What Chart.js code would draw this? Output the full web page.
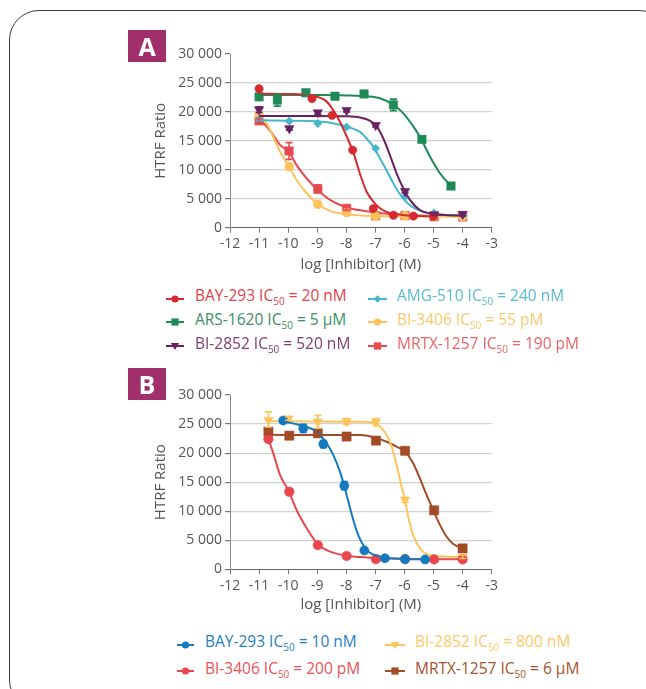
<!DOCTYPE html>
<html><head><meta charset="utf-8">
<script src="https://cdn.jsdelivr.net/npm/chart.js@4.4.1/dist/chart.umd.min.js"></script>
<style>
html,body{margin:0;padding:0;background:#fff;width:646px;height:689px;overflow:hidden;font-family:"Open Sans",sans-serif;}
.frame{position:absolute;left:9px;top:10px;width:660px;height:700px;border:1.5px solid #3a3a3a;border-radius:30px;box-sizing:border-box;}
.tag{position:absolute;left:128px;width:38px;height:32px;background:#a02f6c;color:#fff;font:700 25px "Open Sans",sans-serif;text-align:center;line-height:32px;z-index:3;}
.wrap{position:absolute;left:0;width:646px;height:278px;}
.lt{position:absolute;font-size:15.5px;line-height:20px;height:20px;white-space:nowrap;z-index:4;}
.lt sub{font-size:10px;vertical-align:-4px;line-height:0;}
.lm{position:absolute;z-index:4;}
</style>
</head><body>
<div class="frame"></div>
<div class="tag" style="top:30px">A</div>
<div class="tag" style="top:368px">B</div>
<div class="wrap" style="top:0"><canvas id="cA"></canvas></div>
<div class="wrap" style="top:340px"><canvas id="cB"></canvas></div>
<div id="legends"></div>
<script>
// ---------- axis ticks ----------
const xTickValues = [-12, -11, -10, -9, -8, -7, -6, -5, -4, -3];
const yTickLabels = ['0', '5 000', '10 000', '15 000', '20 000', '25 000', '30 000'];

// ---------- Panel A : measured points ----------
const a_bay_x = [-11, -9.18, -8.49, -7.78, -7.07, -6.38, -5.69, -5.0];
const a_bay_y = [24000, 22300, 19400, 13400, 3300, 2150, 2000, 1950];
const a_bay_e = [0, 300, 0, 0, 0, 0, 0, 0];
const a_ars_x = [-11, -10.37, -9.39, -8.39, -7.39, -6.38, -5.40, -4.40];
const a_ars_y = [22600, 22050, 23300, 22700, 23100, 21200, 15250, 7200];
const a_ars_e = [400, 1050, 300, 300, 300, 1000, 500, 400];
const a_bi2852_x = [-11, -9.96, -8.98, -7.99, -6.99, -5.98, -4.98, -4.0];
const a_bi2852_y = [20400, 17150, 19900, 20300, 17700, 6300, 2300, 2350];
const a_bi2852_e = [500, 300, 300, 300, 300, 300, 200, 300];
const a_amg_x = [-11, -9.96, -8.98, -7.99, -6.99, -5.98, -4.98, -3.99];
const a_amg_y = [18700, 18400, 18000, 17400, 13700, 5350, 2550, 2150];
const a_amg_e = [0, 0, 0, 0, 0, 0, 0, 0];
const a_bi3406_x = [-11, -9.96, -8.98, -7.99, -6.99, -5.98, -4.98, -4.0];
const a_bi3406_y = [19450, 10550, 4050, 2600, 2000, 2050, 1950, 1900];
const a_bi3406_e = [0, 0, 0, 0, 0, 0, 0, 0];
const a_mrtx_x = [-11, -9.97, -8.98, -7.99, -6.99, -5.98, -4.98, -4.0];
const a_mrtx_y = [18450, 13250, 6700, 3350, 2050, 2100, 1900, 1850];
const a_mrtx_e = [400, 1450, 700, 350, 0, 0, 0, 0];

// ---------- Panel A : fitted curves ----------
const a_bay_cx = [-11, -10, -9.2, -8.7, -8.45, -8.22, -8.0, -7.76, -7.53, -7.3, -7.07, -6.84, -6.6, -6.38, -6.0, -5.5, -5.0];
const a_bay_cy = [23150, 23100, 22800, 21900, 20300, 18300, 15900, 13000, 9300, 6200, 4500, 3350, 2700, 2450, 2150, 2000, 1950];
const a_ars_cx = [-11, -9, -8, -7.3, -6.84, -6.38, -6.04, -5.69, -5.41, -5.12, -4.78, -4.4];
const a_ars_cy = [22900, 22900, 22850, 22700, 22350, 21200, 19750, 17450, 15150, 12250, 9400, 7200];
const a_bi2852_cx = [-11, -9, -8, -7.53, -7.18, -6.95, -6.73, -6.5, -6.27, -6.04, -5.81, -5.47, -5.0, -4.5, -4.0];
const a_bi2852_cy = [19300, 19300, 19250, 19050, 18450, 17450, 15450, 12550, 9400, 6800, 4800, 3050, 2350, 2150, 2100];
const a_amg_cx = [-11, -9.5, -8.5, -7.8, -7.53, -7.3, -7.07, -6.84, -6.61, -6.38, -6.15, -5.93, -5.58, -5.24, -4.78, -4.0];
const a_amg_cy = [18550, 18450, 18100, 17150, 16550, 15400, 14000, 11950, 9850, 7650, 5750, 4400, 3150, 2600, 2300, 2150];
const a_bi3406_cx = [-11, -10.74, -10.51, -10.28, -9.96, -9.71, -9.36, -8.98, -8.56, -7.99, -7.3, -6, -4];
const a_bi3406_cy = [19700, 18000, 15700, 13150, 10450, 8250, 5950, 4100, 2900, 2300, 2050, 1950, 1900];
const a_mrtx_cx = [-11, -10.74, -10.51, -10.28, -9.97, -9.71, -9.36, -8.98, -8.56, -7.99, -7.3, -6.5, -5.5, -4];
const a_mrtx_cy = [18900, 17450, 16000, 14300, 13100, 10800, 8500, 6500, 4800, 3500, 2850, 2350, 2100, 2000];

// ---------- Panel B : measured points ----------
const b_bay_x = [-10.17, -9.48, -8.79, -8.07, -7.38, -6.67, -5.98, -5.29];
const b_bay_y = [25600, 24250, 21550, 14400, 3250, 1900, 1750, 1700];
const b_bay_e = [300, 700, 600, 700, 300, 0, 0, 0];
const b_bi3406_x = [-10.68, -9.96, -8.98, -7.99, -6.98, -5.98, -4.98, -4.0];
const b_bi3406_y = [22400, 13350, 4150, 2300, 1750, 1750, 1700, 1700];
const b_bi3406_e = [0, 0, 0, 0, 0, 0, 0, 0];
const b_bi2852_x = [-10.68, -9.99, -8.98, -7.99, -6.98, -5.98, -4.98, -4.0];
const b_bi2852_y = [25700, 25950, 25400, 25450, 25350, 11950, 1900, 2150];
const b_bi2852_e = [1400, 300, 1100, 500, 600, 400, 0, 300];
const b_mrtx_x = [-10.68, -9.96, -8.98, -7.99, -6.98, -5.98, -4.98, -4.0];
const b_mrtx_y = [23700, 23000, 23400, 22850, 22150, 20400, 10150, 3600];
const b_mrtx_e = [500, 300, 300, 300, 400, 300, 400, 300];

// ---------- Panel B : fitted curves ----------
const b_bay_cx = [-10.17, -9.48, -9.02, -8.68, -8.45, -8.22, -8.08, -7.93, -7.76, -7.59, -7.36, -7.19, -6.96, -6.61, -5.9, -5.24];
const b_bay_cy = [25450, 24650, 23700, 21700, 19700, 16800, 14500, 11650, 8500, 5900, 3700, 2850, 2350, 2000, 1750, 1700];
const b_bi3406_cx = [-10.68, -10.51, -10.28, -9.97, -9.71, -9.36, -8.98, -8.56, -7.99, -7.3, -6.5, -5, -4];
const b_bi3406_cy = [22400, 19950, 16250, 13350, 10200, 7050, 4300, 3050, 2350, 2050, 1850, 1750, 1750];
const b_bi2852_cx = [-10.68, -9, -7.5, -7.07, -6.84, -6.61, -6.44, -6.27, -6.1, -5.98, -5.87, -5.7, -5.47, -5.24, -4.9, -4];
const b_bi2852_cy = [25500, 25450, 25400, 25200, 24550, 23100, 21100, 17950, 14250, 11950, 9050, 5900, 3600, 2650, 2300, 2150];
const b_mrtx_cx = [-10.68, -9, -7.53, -7.07, -6.61, -6.27, -5.98, -5.70, -5.47, -5.24, -5.01, -4.78, -4.55, -4.32, -4.0];
const b_mrtx_cy = [23150, 23100, 23100, 22750, 21950, 21100, 20250, 18250, 15650, 12800, 10200, 7650, 5600, 4350, 3600];

// ---------- legend labels ----------
const namesA = ['BAY-293', 'ARS-1620', 'BI-2852', 'AMG-510', 'BI-3406', 'MRTX-1257'];
const icA = ['20 nM', '5 µM', '520 nM', '240 nM', '55 pM', '190 pM'];
const namesB = ['BAY-293', 'BI-3406', 'BI-2852', 'MRTX-1257'];
const icB = ['10 nM', '200 pM', '800 nM', '6 µM'];

// ---------- styling ----------
const seriesA = [
  {x:a_bay_x, y:a_bay_y, e:a_bay_e, cx:a_bay_cx, cy:a_bay_cy, color:'#d42a30', text:'#df424a', shape:'circle', r:4.2},
  {x:a_ars_x, y:a_ars_y, e:a_ars_e, cx:a_ars_cx, cy:a_ars_cy, color:'#1f8a57', text:'#3a9066', shape:'rect', r:6},
  {x:a_bi2852_x, y:a_bi2852_y, e:a_bi2852_e, cx:a_bi2852_cx, cy:a_bi2852_cy, color:'#6a2161', text:'#7d3d70', shape:'tri', r:5.5},
  {x:a_amg_x, y:a_amg_y, e:a_amg_e, cx:a_amg_cx, cy:a_amg_cy, color:'#47b6cb', text:'#58bcd0', shape:'diamond', r:4.2},
  {x:a_bi3406_x, y:a_bi3406_y, e:a_bi3406_e, cx:a_bi3406_cx, cy:a_bi3406_cy, color:'#fdc35a', text:'#fcc86a', shape:'circle', r:4.5},
  {x:a_mrtx_x, y:a_mrtx_y, e:a_mrtx_e, cx:a_mrtx_cx, cy:a_mrtx_cy, color:'#e8494f', text:'#e9636a', shape:'rect', r:6}
];
const seriesB = [
  {x:b_bay_x, y:b_bay_y, e:b_bay_e, cx:b_bay_cx, cy:b_bay_cy, color:'#1479be', text:'#1f80c4', shape:'circle', r:4.6},
  {x:b_bi3406_x, y:b_bi3406_y, e:b_bi3406_e, cx:b_bi3406_cx, cy:b_bi3406_cy, color:'#e9464e', text:'#e8525a', shape:'circle', r:4.8},
  {x:b_bi2852_x, y:b_bi2852_y, e:b_bi2852_e, cx:b_bi2852_cx, cy:b_bi2852_cy, color:'#fdc45c', text:'#fdc865', shape:'tri', r:5.5},
  {x:b_mrtx_x, y:b_mrtx_y, e:b_mrtx_e, cx:b_mrtx_cx, cy:b_mrtx_cy, color:'#a34a26', text:'#a4532e', shape:'rect', r:6.5}
];

const styleMap = {circle:['circle',0], rect:['rect',0], tri:['triangle',180], diamond:['rectRot',0]};

function buildDatasets(series){
  const ds = [];
  series.forEach(s => {
    const st = styleMap[s.shape];
    ds.push({
      data: s.x.map((v,i)=>({x:v, y:s.y[i]})),
      yErr: s.e,
      showLine:false,
      pointStyle: st[0], rotation: st[1], pointRadius: s.r,
      backgroundColor: s.color, borderColor: s.color, borderWidth: 0.5
    });
    ds.push({
      data: s.cx.map((v,i)=>({x:v, y:s.cy[i]})),
      showLine:true, pointRadius:0, borderColor:s.color, borderWidth:2,
      cubicInterpolationMode:'monotone', fill:false
    });
  });
  return ds;
}

const errPlugin = {
  id:'errbars',
  afterDatasetsDraw(chart){
    const ctx = chart.ctx, xs = chart.scales.x, ys = chart.scales.y;
    chart.data.datasets.forEach(ds => {
      if (!ds.yErr) return;
      ctx.save();
      ctx.strokeStyle = ds.borderColor; ctx.lineWidth = 1.6;
      ds.data.forEach((p,i) => {
        const e = ds.yErr[i]; if (!e) return;
        const px = xs.getPixelForValue(p.x);
        const y1 = ys.getPixelForValue(p.y + e), y2 = ys.getPixelForValue(p.y - e);
        ctx.beginPath();
        ctx.moveTo(px, y1); ctx.lineTo(px, y2);
        ctx.moveTo(px-3.5, y1); ctx.lineTo(px+3.5, y1);
        ctx.moveTo(px-3.5, y2); ctx.lineTo(px+3.5, y2);
        ctx.stroke();
      });
      ctx.restore();
    });
  }
};

function makeChart(id, series, padTop, xH){
  return new Chart(document.getElementById(id), {
    type:'scatter',
    data:{datasets: buildDatasets(series)},
    plugins:[errPlugin],
    options:{
      responsive:true, maintainAspectRatio:false, animation:false, devicePixelRatio:1,
      clip:false,
      layout:{padding:{left:148, right:154.3, top:padTop, bottom:0}},
      plugins:{legend:{display:false}, tooltip:{enabled:false}},
      scales:{
        x:{
          type:'linear', min:-12, max:-3,
          afterBuildTicks: s => { s.ticks = xTickValues.map(v=>({value:v})); },
          afterFit: s => { s.height = xH; },
          ticks:{color:'#555', font:{family:'"Open Sans"', size:14}, padding:3, maxRotation:0, autoSkip:false,
                 callback: v => String(v)},
          grid:{drawOnChartArea:false, tickLength:5, tickColor:'#777', tickWidth:1},
          border:{color:'#666', width:1},
          title:{display:true, text:'log [Inhibitor] (M)', color:'#555', font:{family:'"Open Sans"', size:15}, padding:{top:2,bottom:4}}
        },
        y:{
          type:'linear', min:0, max:30000,
          ticks:{stepSize:5000, color:'#555', font:{family:'"Open Sans"', size:14}, padding:3,
                 callback: v => yTickLabels[Math.round(v/5000)]},
          afterFit: s => { s.width = 82; },
          grid:{tickLength:5, tickColor:'#777', lineWidth:1.2,
                color: c => (c.tick && (c.tick.value===30000 || c.tick.value===0)) ? 'rgba(0,0,0,0)' : '#d2d2d2'},
          border:{color:'#888', width:1},
          title:{display:true, text:'HTRF Ratio', color:'#555', font:{family:'"Open Sans"', size:15}, padding:{top:4,bottom:4}}
        }
      }
    }
  });
}

makeChart('cA', seriesA, 54, 50.3);
makeChart('cB', seriesB, 55, 48.7);

// ---------- legends (HTML for subscript text) ----------
function markerSVG(shape, color, w){
  const h = 14, cy = 7, cx = w/2;
  let m = '';
  if (shape==='circle') m = `<circle cx="${cx}" cy="${cy}" r="3.6" fill="${color}"/>`;
  else if (shape==='rect') m = `<rect x="${cx-3.6}" y="${cy-3.6}" width="7.2" height="7.2" fill="${color}"/>`;
  else if (shape==='tri') m = `<polygon points="${cx-4.2},${cy-3} ${cx+4.2},${cy-3} ${cx},${cy+4}" fill="${color}"/>`;
  else m = `<polygon points="${cx},${cy-3.8} ${cx+3.8},${cy} ${cx},${cy+3.8} ${cx-3.8},${cy}" fill="${color}"/>`;
  return `<svg width="${w}" height="${h}" viewBox="0 0 ${w} ${h}"><line x1="0" y1="${cy}" x2="${w}" y2="${cy}" stroke="${color}" stroke-width="2"/>${m}</svg>`;
}
const legRoot = document.getElementById('legends');
function addLegend(series, names, ics, cols, rows){
  series.forEach((s,i)=>{
    const c = cols[i], r = rows[i];
    const m = document.createElement('div');
    m.className='lm'; m.style.left=c[0]+'px'; m.style.top=(r-7)+'px';
    m.innerHTML = markerSVG(s.shape, s.color, c[1]-c[0]);
    legRoot.appendChild(m);
    const t = document.createElement('div');
    t.className='lt'; t.style.left=c[2]+'px'; t.style.top=(r-10.5)+'px'; t.style.color=s.text;
    t.innerHTML = `${names[i]} IC<sub>50</sub> = ${ics[i]}`;
    legRoot.appendChild(t);
  });
}
const colA1=[166,184,195], colA2=[368,387,397];
addLegend(seriesA, namesA, icA, [colA1,colA1,colA1,colA2,colA2,colA2], [295.7,319.3,343.3,295.7,319.3,343.3]);
const colB1=[177,194,205], colB2=[385,405,415];
addLegend(seriesB, namesB, icB, [colB1,colB1,colB2,colB2], [641.7,668,641.7,668]);
</script>
</body></html>
